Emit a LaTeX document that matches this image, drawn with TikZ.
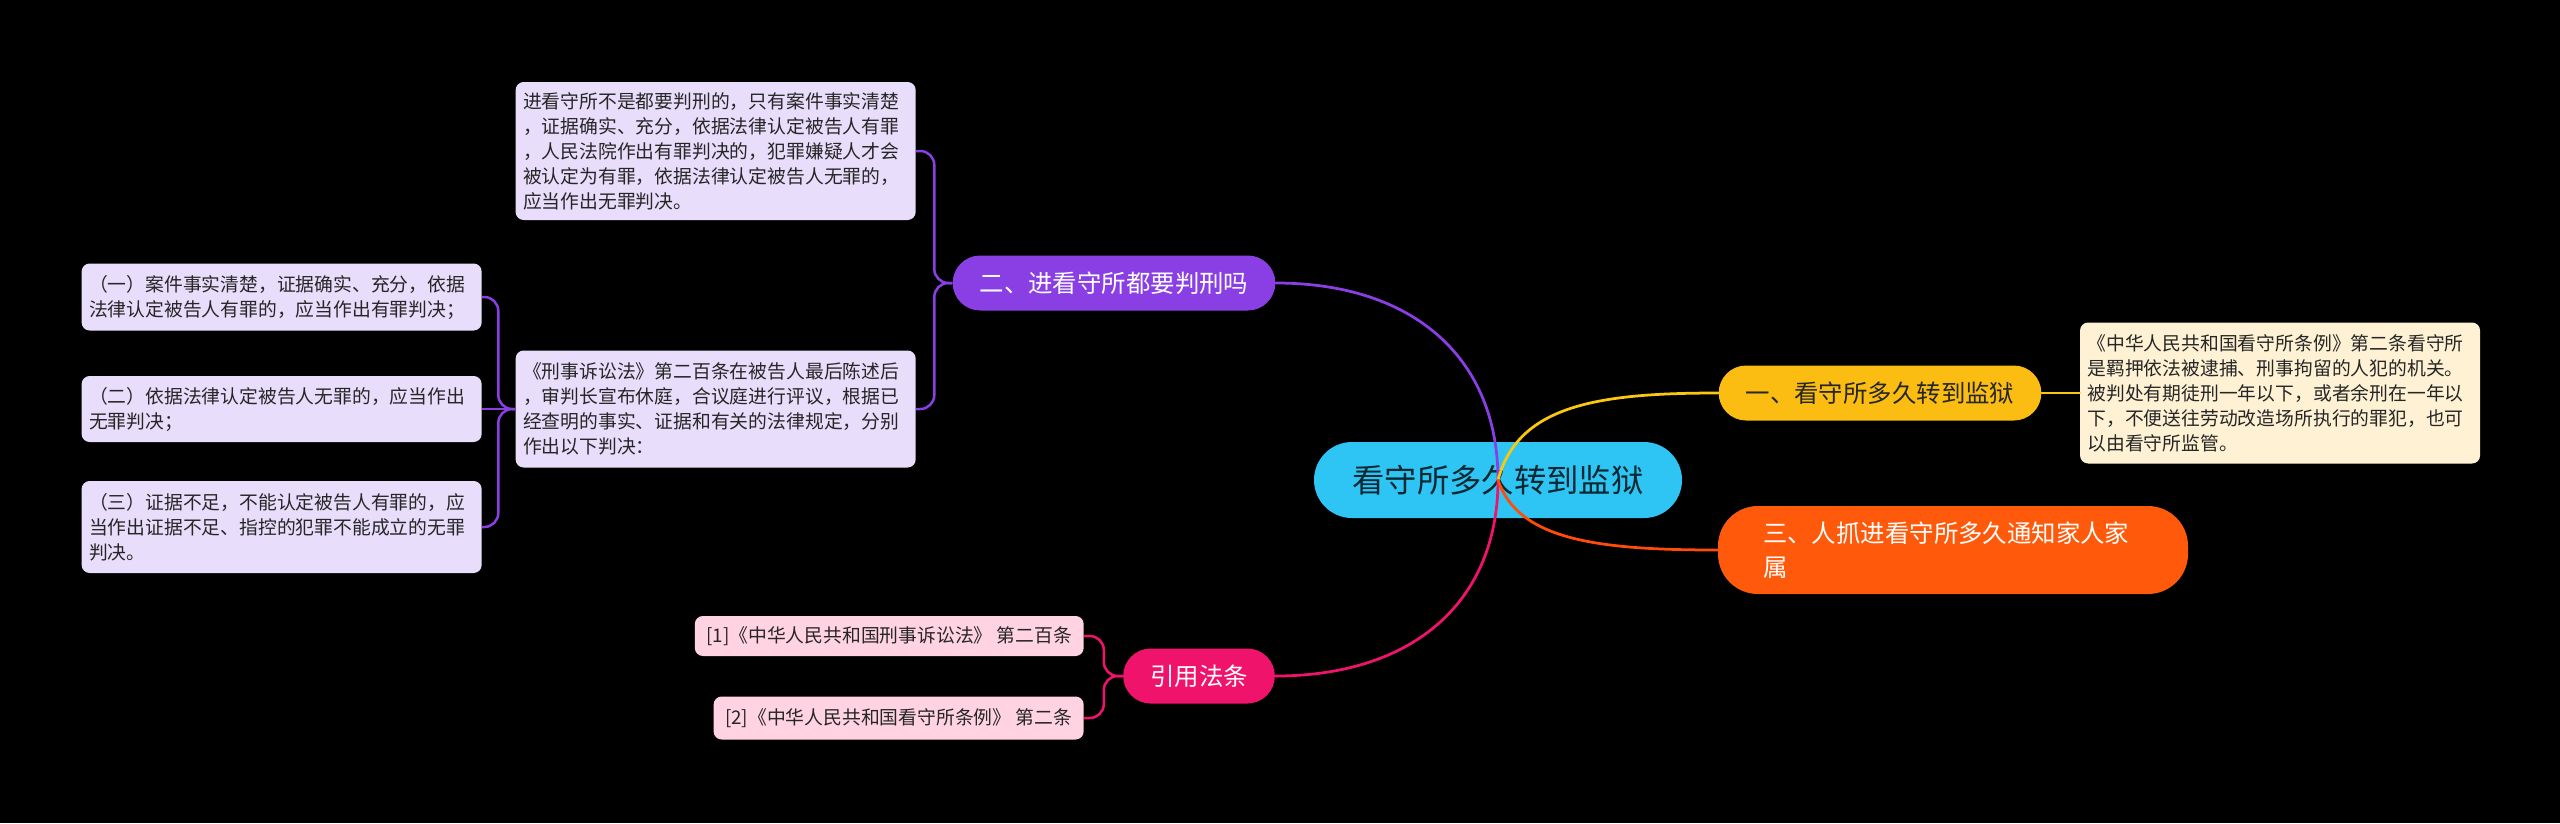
\documentclass[tikz,border=0pt]{standalone}
\usepackage{fontspec}
\setmainfont{Noto Sans CJK SC}
\usetikzlibrary{positioning}
\definecolor{azulcentral}{HTML}{2EC5F4}
\definecolor{amarillorama}{HTML}{FBBD12}
\definecolor{naranjarama}{HTML}{FF5A0B}
\definecolor{moradorama}{HTML}{8A3FE4}
\definecolor{rosarama}{HTML}{F0136B}
\definecolor{lavandahoja}{HTML}{E8DDFB}
\definecolor{cremahoja}{HTML}{FFF2D4}
\definecolor{rosahoja}{HTML}{FFD3E2}
\colorlet{colFondo}{black}
\colorlet{colTexto}{black!85}
\colorlet{colRaizTexto}{azulcentral!20!black}
\colorlet{colLineaAmarilla}{amarillorama!85!yellow}
\colorlet{colLineaNaranja}{naranjarama!85!red}
\tikzset{
  cajaBase/.style={
    rounded corners=1.6mm, inner ysep=0pt,
    align=left, text=colTexto
  },
  cajaHoja/.style={cajaBase, fill=lavandahoja, text width=77mm, inner xsep=1.5mm,
    font=\fontsize{10.7}{14.2}\selectfont},
  cajaCremosa/.style={cajaHoja, fill=cremahoja},
  cajaCita/.style={cajaBase, fill=rosahoja, inner xsep=2.3mm,
    font=\fontsize{10.7}{14.2}\selectfont},
  cajaRama/.style={rounded corners=5.5mm, minimum height=11mm, inner xsep=5.4mm,
    font=\fontsize{13.9}{18}\selectfont, text=white},
  cajaRaiz/.style={rounded corners=7.6mm, fill=azulcentral, minimum height=15.2mm,
    inner xsep=7.7mm, font=\fontsize{18.4}{22}\selectfont, text=colRaizTexto},
  linea/.style={line width=0.55mm, line cap=round},
  lineaCorchete/.style={line width=0.5mm, rounded corners=2.8mm},
}
\begin{document}
\begin{tikzpicture}[x=0.2mm, y=-0.2mm]
  \fill[colFondo] (0,0) rectangle (2560,823);
  \useasboundingbox (0,0) rectangle (2560,823);

  \node[cajaRaiz] (raiz) at (1498,480) {看守所多久转到监狱};

  % rama derecha
  \node[cajaRama, fill=amarillorama, text=colTexto] (ramaUno) at (1880,393) {一、看守所多久转到监狱};
  \node[cajaCremosa, minimum height=28.2mm, right=7.6mm of ramaUno] (hojaUno) {《中华人民共和国看守所条例》第二条看守所\\是羁押依法被逮捕、刑事拘留的人犯的机关。\\被判处有期徒刑一年以下，或者余刑在一年以\\下，不便送往劳动改造场所执行的罪犯，也可\\以由看守所监管。};
  \node[cajaRama, fill=naranjarama, rounded corners=8mm, minimum height=17.6mm,
    minimum width=94mm, text width=76mm, inner xsep=9mm, align=left,
    font=\fontsize{13.9}{19.5}\selectfont] (ramaTres) at (1953,550) {三、人抓进看守所多久通知家人家\\属};

  % rama izquierda
  \node[cajaRama, fill=moradorama] (ramaDos) at (1114,283) {二、进看守所都要判刑吗};
  \node[cajaHoja, anchor=east, minimum height=27.6mm] (hojaDosA) at (916,151) {进看守所不是都要判刑的，只有案件事实清楚\\，证据确实、充分，依据法律认定被告人有罪\\，人民法院作出有罪判决的，犯罪嫌疑人才会\\被认定为有罪，依据法律认定被告人无罪的，\\应当作出无罪判决。};
  \node[cajaHoja, anchor=east, minimum height=23.4mm] (hojaDosB) at (916,409) {《刑事诉讼法》第二百条在被告人最后陈述后\\，审判长宣布休庭，合议庭进行评议，根据已\\经查明的事实、证据和有关的法律规定，分别\\作出以下判决：};
  \node[cajaHoja, anchor=east, minimum height=13.4mm] (juicioUno) at (482,297) {（一）案件事实清楚，证据确实、充分，依据\\法律认定被告人有罪的，应当作出有罪判决；};
  \node[cajaHoja, anchor=east, minimum height=13.2mm] (juicioDos) at (482,409) {（二）依据法律认定被告人无罪的，应当作出\\无罪判决；};
  \node[cajaHoja, anchor=east, minimum height=18.4mm] (juicioTres) at (482,527) {（三）证据不足，不能认定被告人有罪的，应\\当作出证据不足、指控的犯罪不能成立的无罪\\判决。};

  \node[cajaRama, fill=rosarama] (ramaCuatro) at (1199,676) {引用法条};
  \node[cajaCita, anchor=east, minimum height=8mm] (citaUno) at (1084,636) {[1]《中华人民共和国刑事诉讼法》 第二百条};
  \node[cajaCita, anchor=east, minimum height=8.6mm] (citaDos) at (1084,718) {[2]《中华人民共和国看守所条例》 第二条};

  % conectores
  \draw[linea, moradorama] (ramaDos.east) .. controls +(140,0) and +(0,-120) .. (raiz.center);
  \draw[linea, rosarama] (raiz.center) .. controls +(0,120) and +(140,0) .. (ramaCuatro.east);
  \draw[linea, colLineaAmarilla] (raiz.center) .. controls +(20,-75) and +(-120,0) .. (ramaUno.west);
  \draw[linea, colLineaNaranja] (raiz.center) .. controls +(20,60) and +(-120,0) .. (ramaTres.west);
  \draw[linea, colLineaAmarilla] (ramaUno.east) -- (hojaUno.west);

  \draw[lineaCorchete, moradorama] (ramaDos.west) -- ++(-18,0) |- (hojaDosA.east);
  \draw[lineaCorchete, moradorama] (ramaDos.west) -- ++(-18,0) |- (hojaDosB.east);
  \draw[lineaCorchete, moradorama] (hojaDosB.west) -- ++(-17,0) |- (juicioUno.east);
  \draw[lineaCorchete, moradorama] (hojaDosB.west) -- (juicioDos.east);
  \draw[lineaCorchete, moradorama] (hojaDosB.west) -- ++(-17,0) |- (juicioTres.east);
  \draw[lineaCorchete, rosarama] (ramaCuatro.west) -- ++(-19,0) |- (citaUno.east);
  \draw[lineaCorchete, rosarama] (ramaCuatro.west) -- ++(-19,0) |- (citaDos.east);
\end{tikzpicture}
\end{document}
